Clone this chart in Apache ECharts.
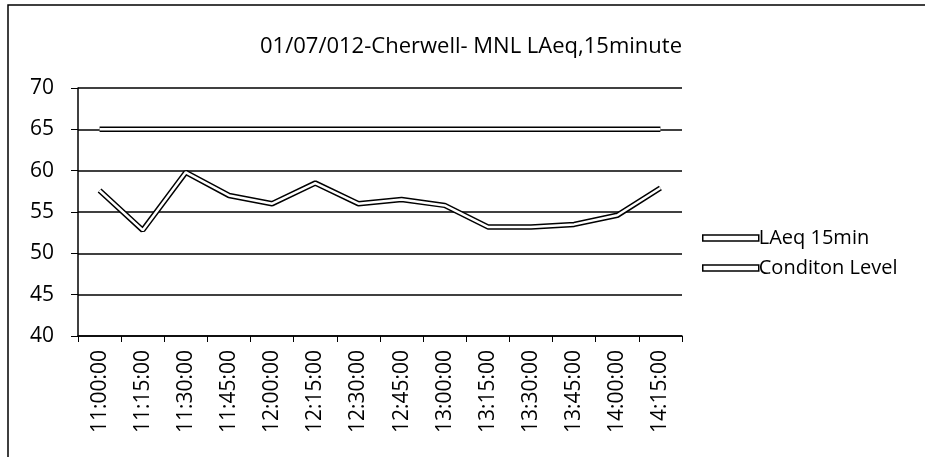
<!DOCTYPE html>
<html><head><meta charset="utf-8">
<script src="https://cdn.jsdelivr.net/npm/echarts@6/dist/echarts.min.js"></script>
<style>html,body{margin:0;padding:0;background:#fff}#c{width:925px;height:457px}</style>
</head><body><div id="c"></div>
<script>
var categories = ["11:00:00","11:15:00","11:30:00","11:45:00","12:00:00","12:15:00","12:30:00","12:45:00","13:00:00","13:15:00","13:30:00","13:45:00","14:00:00","14:15:00"];
var laeq = [57.6,52.8,59.8,57.0,56.0,58.5,56.0,56.5,55.8,53.2,53.2,53.5,54.6,57.9];
var condition = [65,65,65,65,65,65,65,65,65,65,65,65,65,65];
var yTicks = [40,45,50,55,60,65,70];
var FONT = '"Open Sans", "Noto Sans", sans-serif';
var chart = echarts.init(document.getElementById('c'));
function pair(name, data){
  return [
    {name:name, type:'line', data:data, symbol:'none', z:2,
     lineStyle:{color:'#000', width:5.5}, itemStyle:{color:'#fff', borderColor:'#000'}},
    {name:name, type:'line', data:data, symbol:'none', z:3,
     lineStyle:{color:'#fff', width:2.5}, itemStyle:{color:'#fff'}}
  ];
}
chart.setOption({
  animation:false,
  title:{text:'01/07/012-Cherwell- MNL LAeq,15minute', left:466, top:31, textAlign:'center',
    textStyle:{fontFamily:FONT, fontSize:22, fontWeight:'normal', color:'#000'}},
  grid:{left:78, right:243, top:88, bottom:121},
  legend:{orient:'vertical', left:697, top:221, itemGap:6, itemWidth:56, itemHeight:6,
    icon:'rect', data:['LAeq 15min','Conditon Level'],
    itemStyle:{color:'#fff', borderColor:'#000', borderWidth:1.5},
    textStyle:{fontFamily:FONT, fontSize:20, color:'#000', padding:[0,0,0,-5], lineHeight:24}},
  xAxis:{type:'category', data:categories, boundaryGap:true,
    axisLine:{lineStyle:{color:'#000', width:1.5}},
    axisTick:{show:true, length:6, lineStyle:{color:'#000'}},
    axisLabel:{rotate:90, fontFamily:FONT, fontSize:21, color:'#000', margin:14, interval:0}},
  yAxis:{type:'value', min:40, max:70, interval:5,
    axisLine:{show:true, lineStyle:{color:'#000', width:1.5}},
    axisTick:{show:true, length:7, lineStyle:{color:'#000'}},
    splitLine:{lineStyle:{color:'#000', width:1.5}},
    axisLabel:{fontFamily:FONT, fontSize:21, color:'#000', margin:24,
      formatter:function(v){return yTicks.indexOf(v)>=0?String(v):'';}}},
  series:[].concat(pair('LAeq 15min', laeq), pair('Conditon Level', condition)),
  graphic:[
    {type:'rect', shape:{x:8, y:5, width:1000, height:500}, style:{fill:'none', stroke:'#000', lineWidth:1.5}, silent:true}
  ]
});
</script></body></html>
